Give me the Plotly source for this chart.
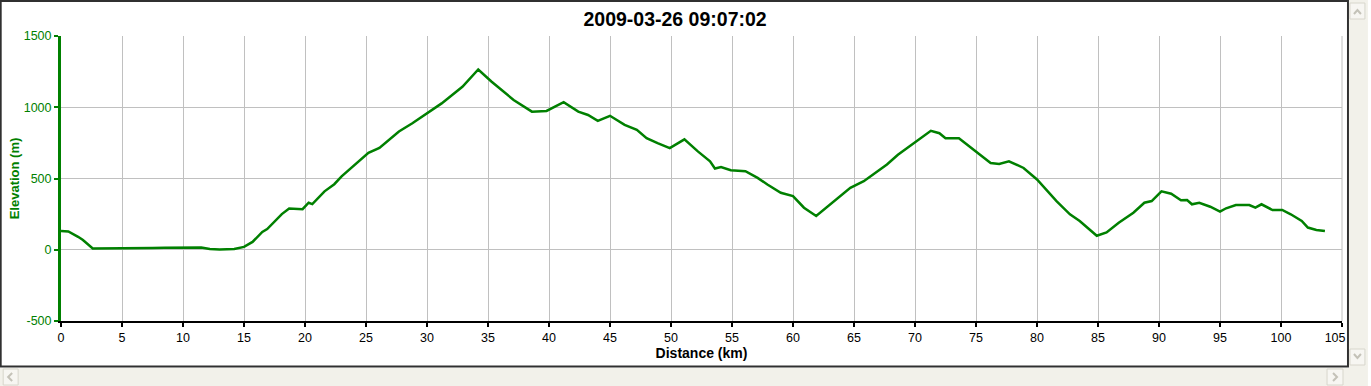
import plotly.graph_objects as go

# ---- data ----
distance_km = [0, 0.6, 1.4, 1.8, 2.6, 3.5, 4.5, 5.5, 6.5, 7.5, 8.5, 9.5, 10.5, 11.5, 12.2, 13.0,
               14.2, 15.0, 15.7, 16.5, 16.9, 17.5, 18.1, 18.7, 19.8, 20.3, 20.6, 21.6, 22.4, 23.0,
               24.4, 25.2, 26.1, 27.7, 28.8, 30.0, 31.2, 32.9, 34.2, 35.3, 37.1, 38.6, 39.8, 41.2,
               42.4, 43.2, 44.0, 45.0, 46.2, 47.2, 48.0, 48.9, 49.9, 51.1, 52.2, 53.2, 53.6, 54.1,
               54.9, 56.1, 57.1, 57.9, 59.0, 60.0, 60.9, 61.9, 63.1, 64.7, 65.8, 66.9, 67.7, 68.6,
               69.9, 71.3, 72.0, 72.5, 73.6, 74.8, 76.2, 76.9, 77.7, 78.9, 80.0, 81.6, 82.7, 83.5,
               84.9, 85.7, 86.7, 87.9, 88.8, 89.4, 90.2, 91.0, 91.8, 92.3, 92.7, 93.3, 94.2, 95.0,
               95.5, 96.3, 97.4, 97.9, 98.4, 99.3, 100.1, 100.8, 101.7, 102.2, 102.9, 103.6]
elevation_m = [132, 128, 91, 68, 9, 10, 12, 15, 17, 13, 14, 16, 13, 15, 6, 2,
               5, 20, 55, 125, 145, 200, 250, 290, 285, 330, 320, 410, 460, 515,
               620, 680, 715, 830, 888, 958, 1027, 1144, 1265, 1179, 1051, 969, 974, 1035,
               969, 946, 905, 940, 876, 841, 783, 748, 713, 775, 690, 620, 570, 581,
               558, 551, 504, 458, 400, 377, 295, 237, 319, 435, 481, 551, 598, 667,
               748, 835, 818, 783, 783, 702, 609, 602, 621, 574, 493, 342, 249, 202,
               98, 121, 190, 260, 330, 342, 410, 393, 347, 349, 319, 330, 302, 267,
               291, 314, 314, 295, 319, 279, 279, 249, 202, 156, 139, 132]

title_text = "2009-03-26 09:07:02"
x_title = "Distance (km)"
y_title = "Elevation (m)"
x_ticks = list(range(0, 106, 5))
x_labels = [str(v) for v in x_ticks]
y_ticks = [-500, 0, 500, 1000, 1500]

GREEN = "#008000"
W, H = 1371, 386
L, R, T, B = 61, 1346, 36, 321  # plot area in pixels


def px(x):
    return (x - L) / (R - L)


def py(y):
    return (B - y) / (B - T)


fig = go.Figure()
fig.add_trace(go.Scatter(x=distance_km, y=elevation_m, mode="lines",
                         line=dict(color=GREEN, width=2.5), hoverinfo="skip"))

shapes = []
# chart window border
shapes.append(dict(type="rect", xref="paper", yref="paper", x0=px(0.5), x1=px(1352), y0=py(1), y1=py(366.5),
                   line=dict(color="#303030", width=2), fillcolor="rgba(0,0,0,0)", layer="above"))
# scrollbars
sb = "#F2F1EA"
shapes.append(dict(type="rect", xref="paper", yref="paper", x0=px(1353), x1=px(1372), y0=py(-1), y1=py(387),
                   line=dict(width=0), fillcolor=sb, layer="above"))
shapes.append(dict(type="rect", xref="paper", yref="paper", x0=px(-1), x1=px(1353), y0=py(368), y1=py(387),
                   line=dict(width=0), fillcolor=sb, layer="above"))
# scroll buttons
for (x0, y0, x1, y1) in [(1354, 3, 1369, 19), (1354, 349, 1369, 365), (3, 369, 18, 385), (1331, 369, 1347, 385)]:
    shapes.append(dict(type="rect", xref="paper", yref="paper", x0=px(x0), x1=px(x1), y0=py(y0), y1=py(y1),
                       line=dict(color="#D8D6CC", width=1), fillcolor="#F7F6F2", layer="above"))
chev = [
    [(1358, 14), (1361.5, 10), (1365, 14)],
    [(1358, 354), (1361.5, 358), (1365, 354)],
    [(12, 373), (8, 377), (12, 381)],
    [(1337, 373), (1341, 377), (1337, 381)],
]
for pts in chev:
    path = "M " + " L ".join(f"{px(a)},{py(b)}" for a, b in pts)
    shapes.append(dict(type="path", xref="paper", yref="paper", path=path,
                       line=dict(color="#C4C2B8", width=2), layer="above"))

# last x label sits left of its tick in the reference: pad it with no-break spaces
x_labels[-1] = x_labels[-1] + "\u00a0" * 4

fig.update_layout(
    width=W, height=H, autosize=False,
    margin=dict(l=L, r=W - R, t=T, b=H - B, pad=0),
    paper_bgcolor="white", plot_bgcolor="white",
    showlegend=False,
    title=dict(text=f"<b>{title_text}</b>", x=px(677), xref="paper", xanchor="center",
               y=1 - 19 / H, yanchor="middle",
               font=dict(family="Liberation Sans, Arial", size=19.5, color="black")),
    font=dict(family="Liberation Sans, Arial", size=12),
    shapes=shapes,
    xaxis=dict(range=[0, 105], tickvals=x_ticks, ticktext=x_labels,
               showgrid=True, gridcolor="#C0C0C0", gridwidth=1,
               showline=True, linecolor="black", linewidth=2, mirror=False,
               ticks="outside", ticklen=4, tickwidth=2, tickcolor="black",
               tickfont=dict(color="black", size=12.5), zeroline=False,
               title=dict(text=f"<b>{x_title}</b>", standoff=3, font=dict(size=14, color="black"))),
    yaxis=dict(range=[-500, 1500], tickvals=y_ticks, ticktext=[str(v) for v in y_ticks],
               showgrid=True, gridcolor="#C0C0C0", gridwidth=1,
               showline=True, linecolor=GREEN, linewidth=3,
               ticks="outside", ticklen=4, tickwidth=2, tickcolor=GREEN,
               tickfont=dict(color=GREEN, size=12.5), zeroline=False,
               title=dict(text=f"<b>{y_title}</b>", standoff=2, font=dict(size=13, color=GREEN))),
)

# right border grid line (plot edge)
fig.add_shape(type="line", xref="paper", yref="paper", x0=1, x1=1, y0=0, y1=1,
              line=dict(color="#C0C0C0", width=1), layer="below")

fig.write_html("out.html", config={"displayModeBar": False},
               post_script="document.body.style.margin='0';document.body.style.overflow='hidden';")
